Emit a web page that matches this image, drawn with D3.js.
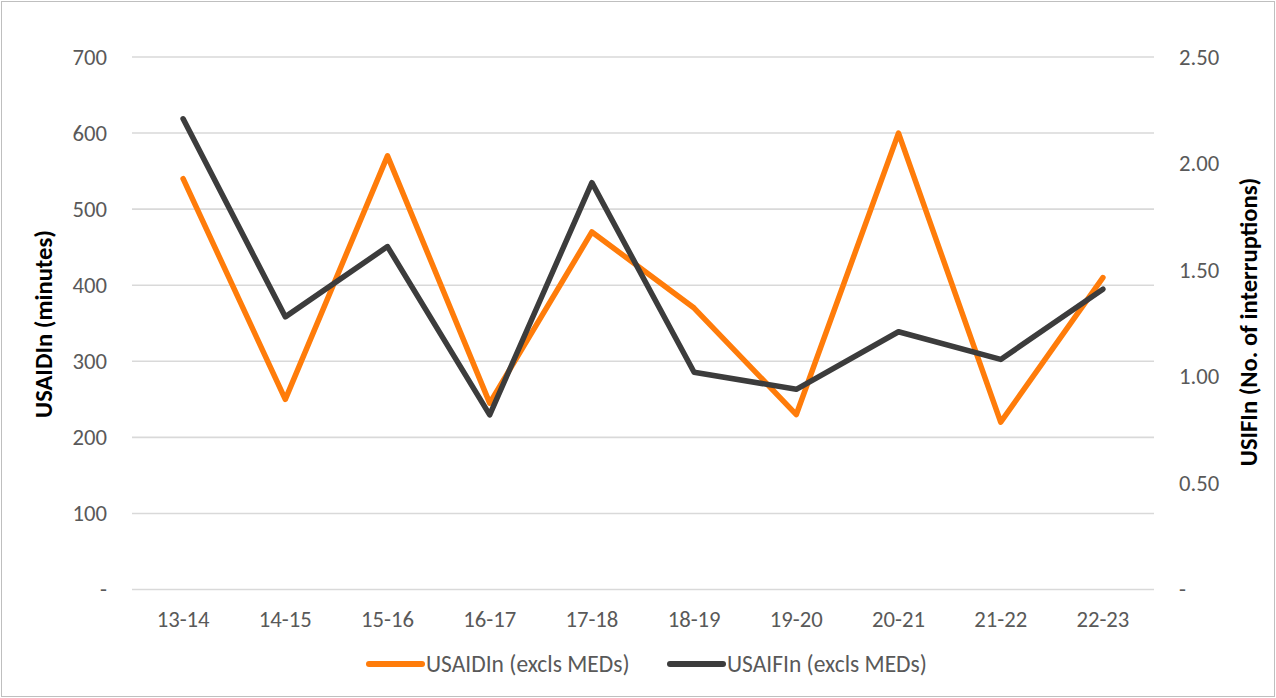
<!DOCTYPE html>
<html>
<head>
<meta charset="utf-8">
<script src="https://cdn.jsdelivr.net/npm/d3@7"></script>
<style>
  html, body { margin: 0; padding: 0; background: #fff; }
  svg { display: block; }
  text { font-family: Carlito, Calibri, "Open Sans", "Liberation Sans", sans-serif; }
</style>
</head>
<body>
<svg id="chart" width="1276" height="698"></svg>
<script>
// Financial years
const years = ["13-14", "14-15", "15-16", "16-17", "17-18", "18-19", "19-20", "20-21", "21-22", "22-23"];
// Unplanned average interruption duration, minutes (left axis)
const usaidin = [540, 250, 570, 245, 470, 370, 230, 600, 220, 410];
// Unplanned average interruption frequency, count (right axis)
const usaifin = [2.21, 1.28, 1.61, 0.82, 1.91, 1.02, 0.94, 1.21, 1.08, 1.41];
const leftTicks = [0, 100, 200, 300, 400, 500, 600, 700];
const rightTicks = [0, 0.5, 1.0, 1.5, 2.0, 2.5];
const seriesNames = ["USAIDIn (excls MEDs)", "USAIFIn (excls MEDs)"];

const svg = d3.select("#chart");
const W = 1276, H = 698;
const margin = { left: 132, right: 122, top: 57, bottom: 108.5 };
const plotW = W - margin.left - margin.right;
const plotH = H - margin.top - margin.bottom;

const orange = "#FF7C0A";
const dark = "#3C3C3C";
const tickSize = "22.7px";

// chart frame
svg.append("rect")
  .attr("x", 1.5).attr("y", 1.5).attr("width", W - 3).attr("height", H - 3)
  .attr("fill", "#fff").attr("stroke", "#BFBFBF").attr("stroke-width", 1);

const g = svg.append("g").attr("transform", `translate(${margin.left},${margin.top})`);

const x = d3.scaleBand().domain(years).range([0, plotW]);
const yL = d3.scaleLinear().domain([0, 700]).range([plotH, 0]);
const yR = d3.scaleLinear().domain([0, 2.5]).range([plotH, 0]);

// horizontal gridlines
g.append("g")
  .selectAll("line")
  .data(leftTicks)
  .join("line")
  .attr("x1", 0).attr("x2", plotW)
  .attr("y1", d => yL(d)).attr("y2", d => yL(d))
  .attr("stroke", "#D9D9D9").attr("stroke-width", 1.6);

// left axis
const leftAxis = d3.axisLeft(yL)
  .tickValues(leftTicks)
  .tickSize(0)
  .tickPadding(25)
  .tickFormat(d => d === 0 ? "-" : d3.format("d")(d));
const gl = g.append("g").call(leftAxis);
gl.select(".domain").remove();
gl.selectAll("text").attr("fill", "#595959").style("font-size", tickSize);

// right axis
const rightAxis = d3.axisRight(yR)
  .tickValues(rightTicks)
  .tickSize(0)
  .tickPadding(25)
  .tickFormat(d => d === 0 ? "-" : d3.format(".2f")(d));
const gr = g.append("g").attr("transform", `translate(${plotW},0)`).call(rightAxis);
gr.select(".domain").remove();
gr.selectAll("text").attr("fill", "#595959").style("font-size", tickSize);

// category axis
const bottomAxis = d3.axisBottom(x).tickSize(0).tickPadding(21);
const gb = g.append("g").attr("transform", `translate(0,${plotH})`).call(bottomAxis);
gb.select(".domain").remove();
gb.selectAll("text").attr("fill", "#595959").style("font-size", tickSize);

// lines
const cx = d => x(d) + x.bandwidth() / 2;
const lineL = d3.line().x((d, i) => cx(years[i])).y(d => yL(d));
const lineR = d3.line().x((d, i) => cx(years[i])).y(d => yR(d));

g.append("path").datum(usaidin)
  .attr("d", lineL)
  .attr("fill", "none").attr("stroke", orange).attr("stroke-width", 5.5)
  .attr("stroke-linejoin", "round").attr("stroke-linecap", "round");

g.append("path").datum(usaifin)
  .attr("d", lineR)
  .attr("fill", "none").attr("stroke", dark).attr("stroke-width", 5.5)
  .attr("stroke-linejoin", "round").attr("stroke-linecap", "round");

// axis titles
svg.append("text")
  .attr("transform", `translate(43,324) rotate(-90)`)
  .attr("text-anchor", "middle").attr("dy", "0.35em")
  .attr("fill", "#000").style("font-size", "24.6px").style("font-weight", "bold")
  .text("USAIDIn (minutes)");

svg.append("text")
  .attr("transform", `translate(1248,322) rotate(-90)`)
  .attr("text-anchor", "middle").attr("dy", "0.35em")
  .attr("fill", "#000").style("font-size", "24.6px").style("font-weight", "bold")
  .text("USIFIn (No. of interruptions)");

// legend
const legendItems = [
  { name: seriesNames[0], color: orange, x: 369 },
  { name: seriesNames[1], color: dark, x: 670 }
];
const lg = svg.append("g").attr("transform", "translate(0,664)");
legendItems.forEach(it => {
  lg.append("line")
    .attr("x1", it.x).attr("x2", it.x + 53)
    .attr("y1", 0).attr("y2", 0)
    .attr("stroke", it.color).attr("stroke-width", 6).attr("stroke-linecap", "round");
  lg.append("text")
    .attr("x", it.x + 57).attr("y", 0).attr("dy", "0.35em")
    .attr("fill", "#595959").style("font-size", "23.5px")
    .text(it.name);
});
</script>
</body>
</html>
